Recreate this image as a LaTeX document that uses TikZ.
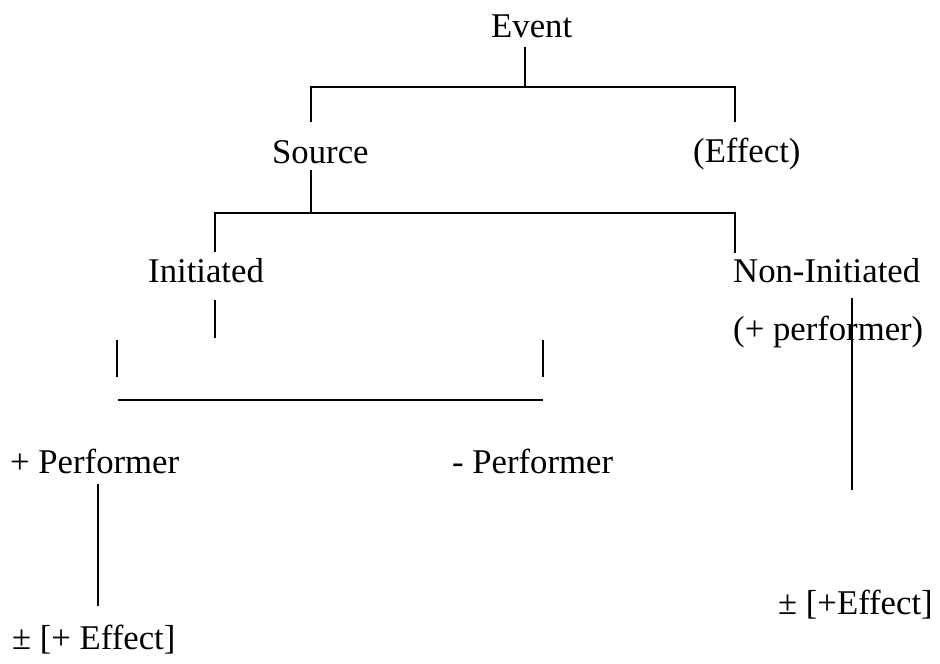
\documentclass[tikz,border=0pt]{standalone}
\usepackage{fontspec}
\setmainfont{Liberation Serif}
\begin{document}
\begin{tikzpicture}[x=1pt,y=-1pt,
  lbl/.style={anchor=base west, inner sep=0pt, font=\fontsize{34.7}{40}\selectfont},
  branch/.style={line width=1.8pt}]
\useasboundingbox (0,0) rectangle (940,664);

% labels
\node[lbl] (event)     at (491,37)  {Event};
\node[lbl] (source)    at (272,163) {Source};
\node[lbl] (effect)    at (693,162) {(Effect)};
\node[lbl] (init)      at (148,282) {Initiated};
\node[lbl] (noninit)   at (733,282) {Non-Initiated};
\node[lbl] (perfnote)  at (733,340) {(+ performer)};
\node[lbl] (plusperf)  at (10,473)  {+ Performer};
\node[lbl] (minusperf) at (452,473) {- Performer};
\node[lbl] (effL)      at (12,649)  {± [+ Effect]};
\node[lbl] (effR)      at (778,614) {± [+Effect]};

% branch points
\coordinate (e1) at (525,47);  \coordinate (e2) at (525,87);
\coordinate (eL) at (311,87);  \coordinate (eR) at (735,87);
\coordinate (eLd) at (311,122); \coordinate (eRd) at (735,122);

\coordinate (s1) at (311,170); \coordinate (s2) at (311,213);
\coordinate (sL) at (215,213); \coordinate (sR) at (735,213);
\coordinate (sLd) at (215,252); \coordinate (sRd) at (735,253);

\coordinate (i1) at (215,300); \coordinate (i2) at (215,338);
\coordinate (tL1) at (117,340); \coordinate (tL2) at (117,377);
\coordinate (tR1) at (543,340); \coordinate (tR2) at (543,377);
\coordinate (bL) at (118,400); \coordinate (bR) at (543,400);

\coordinate (p1) at (98,484);  \coordinate (p2) at (98,606);
\coordinate (n1) at (852,298); \coordinate (n2) at (852,490);

% Event
\draw[branch] (e1) -- (e2);
\draw[branch] (eLd) -- (eL) -- (eR) -- (eRd);
% Source
\draw[branch] (s1) -- (s2);
\draw[branch] (sLd) -- (sL) -- (sR) -- (sRd);
% Initiated
\draw[branch] (i1) -- (i2);
\draw[branch] (tL1) -- (tL2);
\draw[branch] (tR1) -- (tR2);
\draw[branch] (bL) -- (bR);
% Performer
\draw[branch] (p1) -- (p2);
% Non-Initiated
\draw[branch] (n1) -- (n2);
\end{tikzpicture}
\end{document}
